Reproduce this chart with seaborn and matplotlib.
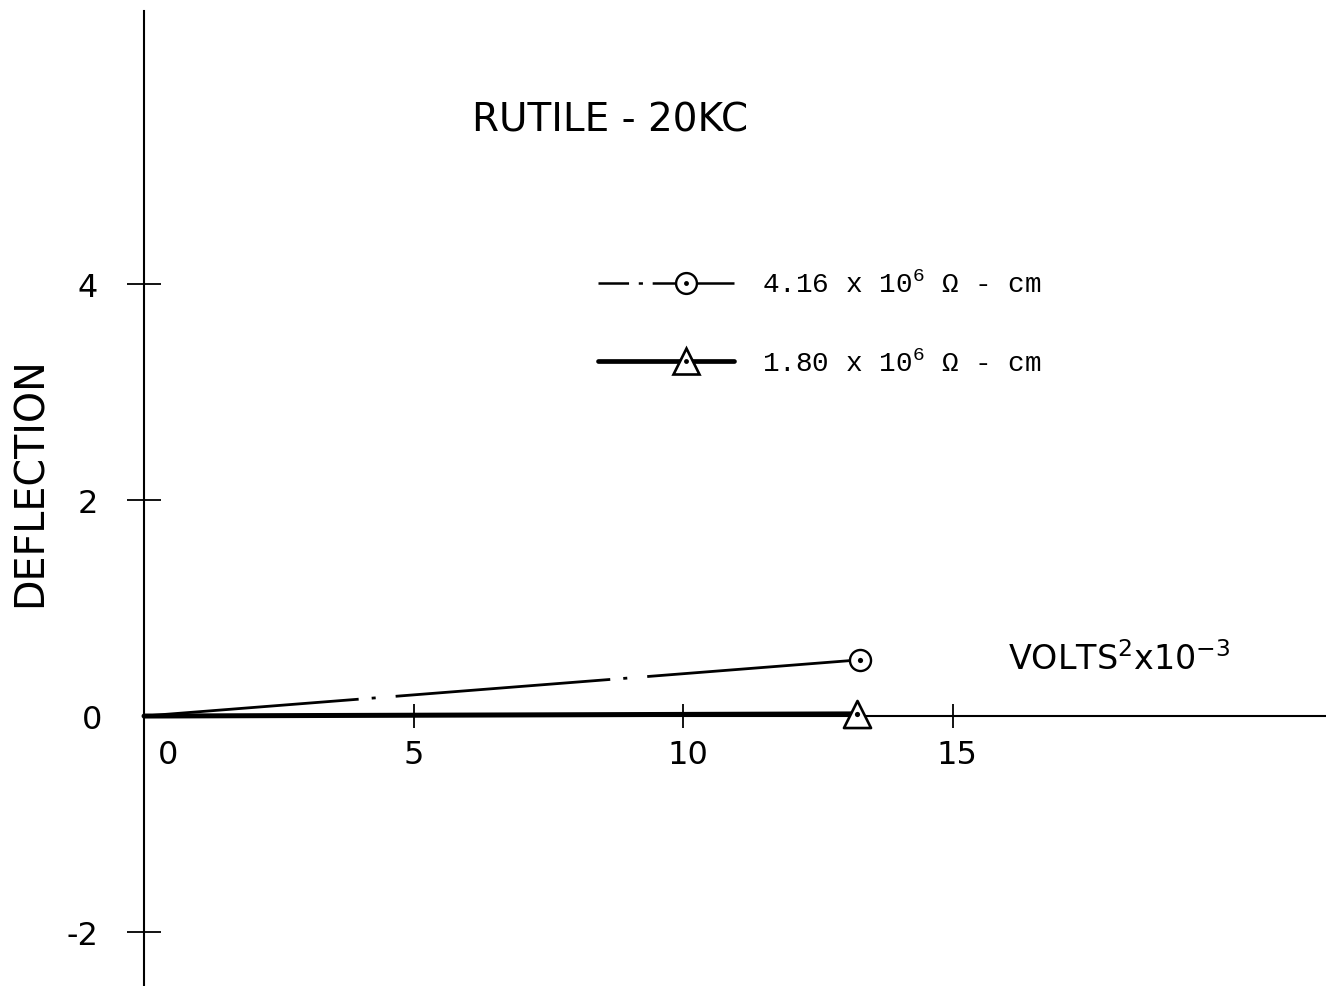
import numpy as np
import pandas as pd
import matplotlib
matplotlib.use("Agg")
import matplotlib.pyplot as plt
import matplotlib.transforms as mtransforms
from matplotlib.lines import Line2D
from matplotlib.legend_handler import HandlerLine2D
import seaborn as sns

# ---------------- data ----------------
series_labels = ["4.16 x 10$\\mathregular{^{6}}$ Ω - cm",
                 "1.80 x 10$\\mathregular{^{6}}$ Ω - cm"]
volts_sq_hi = [0.0, 13.27]
defl_hi = [0.0, 0.52]
volts_sq_lo = [0.0, 13.22]
defl_lo = [0.0, 0.02]
x_ticks = [0, 5, 10, 15]
x_tick_labels = ["0", "5", "10", "15"]
y_ticks = [-2, 2, 4]
y_tick_labels = ["-2", "2", "4"]
title_text = "RUTILE - 20KC"
y_label = "DEFLECTION"
x_label = "VOLTS$\\mathregular{^{2}}$x10$\\mathregular{^{-3}}$"

# ---------------- style ----------------
sns.set_theme(style="white")
plt.rcParams["font.family"] = ["DejaVu Sans"]
plt.rcParams["lines.scale_dashes"] = False
plt.rcParams["mathtext.default"] = "regular"

fig = plt.figure(figsize=(13.26, 9.87), dpi=100)
ax = fig.add_axes([0, 0, 1, 1])
ax.set_facecolor("white")

ax.set_xlim(-2.67, 21.91)
ax.set_ylim(-2.498, 6.635)

dashdot = (0, (155, 9.4, 2.9, 14.4))

# series 1: dash-dot with circle
sns.lineplot(x=volts_sq_hi, y=defl_hi, ax=ax, color="black", lw=2.0,
             linestyle=dashdot, sort=False, zorder=3)
# series 2: thick solid with triangle
sns.lineplot(x=volts_sq_lo, y=defl_lo, ax=ax, color="black", lw=3.6,
             sort=False, zorder=3)

sns.scatterplot(x=volts_sq_hi[-1:], y=defl_hi[-1:], ax=ax, marker="o", s=230,
                facecolor="white", edgecolor="black", linewidth=1.7, zorder=5)
sns.scatterplot(x=volts_sq_lo[-1:], y=defl_lo[-1:], ax=ax, marker="^", s=380,
                facecolor="white", edgecolor="black", linewidth=1.9, zorder=5)
sns.scatterplot(x=[volts_sq_hi[-1], volts_sq_lo[-1]], y=[defl_hi[-1], defl_lo[-1]],
                ax=ax, marker="o", s=14, color="black", linewidth=0, zorder=6)

# axes through origin
for side in ["top", "right"]:
    ax.spines[side].set_visible(False)
ax.spines["left"].set_position(("data", 0))
ax.spines["bottom"].set_position(("data", 0))
for side in ["left", "bottom"]:
    ax.spines[side].set_color("black")
    ax.spines[side].set_linewidth(1.5)
ax.spines["left"].set_bounds(-2.498, 6.52)
ax.spines["bottom"].set_bounds(0, 21.91)

ax.set_xticks(x_ticks, labels=x_tick_labels)
ax.set_yticks(y_ticks, labels=y_tick_labels)
ax.set_yticks([0], labels=["0"], minor=True)
ax.tick_params(axis="y", which="major", direction="inout", length=24, width=1.3,
               pad=21, labelsize=23, colors="black", left=True)
ax.tick_params(axis="y", which="minor", length=0, pad=30, labelsize=23,
               colors="black", left=True)
ax.tick_params(axis="x", which="major", direction="inout", length=17, width=1.3,
               pad=8, labelsize=23, colors="black", bottom=True)

# slight rightward offsets of x tick labels as drawn
for lab, dx in zip(ax.get_xticklabels(), [24, 0, 4, 4]):
    lab.set_transform(lab.get_transform() +
                      mtransforms.ScaledTranslation(dx / 100, 0, fig.dpi_scale_trans))

ax.grid(False)

# texts
fig.text(472 / 1326, 1 - 120 / 987, title_text, fontsize=28, va="center",
         ha="left", color="black")
fig.text(31 / 1326, 1 - 482 / 987, y_label, fontsize=28.5, rotation=90,
         va="center", ha="center", color="black")
fig.text(1008 / 1326, 1 - 660 / 987, x_label, fontsize=24, va="center",
         ha="left", color="black")


class OffsetMarkerHandler(HandlerLine2D):
    """Line handle with its marker placed right of centre, as drawn."""
    def create_artists(self, legend, orig_handle, xdescent, ydescent,
                       width, height, fontsize, trans):
        x0 = -xdescent
        x1 = -xdescent + width
        xm = x0 + 0.65 * width
        yc = (height - ydescent) / 2
        line = Line2D([x0, x1], [yc, yc])
        self.update_prop(line, orig_handle, legend)
        line.set_marker("None")
        line.set_transform(trans)
        mk = Line2D([xm], [yc])
        self.update_prop(mk, orig_handle, legend)
        mk.set_linestyle("None")
        mk.set_transform(trans)
        return [line, mk]


# legend
h1 = Line2D([], [], color="black", lw=1.8, linestyle=(0, (22, 7, 3, 7, 70, 1)),
            marker="o", markersize=15, markerfacecolor="white",
            markeredgecolor="black", markeredgewidth=1.7)
h2 = Line2D([], [], color="black", lw=3.4, marker="^", markersize=19,
            markerfacecolor="white", markeredgecolor="black",
            markeredgewidth=1.9)
hdot = Line2D([], [], linestyle="none", marker="o", markersize=3.5,
              color="black", markeredgewidth=0)
leg = ax.legend([(h1, hdot), (h2, hdot)], series_labels, loc="center left",
                bbox_to_anchor=(598 / 1326, 1 - 325 / 987),
                bbox_transform=fig.transFigure, frameon=False,
                handlelength=4.9, handletextpad=1.0, labelspacing=1.85,
                numpoints=1, prop={"family": "Liberation Mono", "size": 20},
                borderpad=0, borderaxespad=0,
                handler_map={Line2D: OffsetMarkerHandler()})
for t in leg.get_texts():
    t.set_color("black")

fig.savefig("out.png", dpi=100, facecolor="white")
